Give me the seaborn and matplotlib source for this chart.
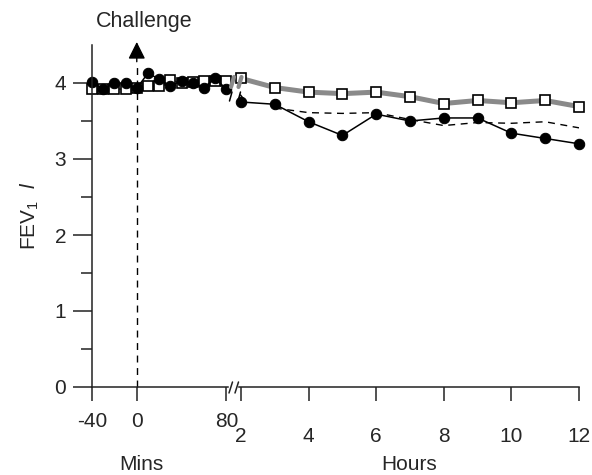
import matplotlib
matplotlib.use("Agg")
import matplotlib.pyplot as plt
from matplotlib.lines import Line2D
import seaborn as sns
import pandas as pd

# ---- data ----
mins = [-40, -30, -20, -10, 0, 10, 20, 30, 40, 50, 60, 70, 80]
circles_mins = [4.01, 3.92, 4.00, 4.00, 3.93, 4.13, 4.05, 3.96, 4.03, 4.00, 3.94, 4.06, 3.92]
squares_mins = [3.92, 3.92, 3.92, 3.92, 3.94, 3.96, 3.96, 4.04, 4.00, 4.01, 4.03, 4.02, 4.03]

hours = [2, 3, 4, 5, 6, 7, 8, 9, 10, 11, 12]
squares_hours = [4.06, 3.94, 3.88, 3.86, 3.88, 3.82, 3.73, 3.77, 3.74, 3.77, 3.69]
circles_hours = [3.75, 3.72, 3.49, 3.31, 3.59, 3.50, 3.54, 3.54, 3.34, 3.27, 3.20]
dashed_hours = [3, 4, 5, 6, 7, 8, 9, 10, 11, 12]
dashed_values = [3.67, 3.61, 3.60, 3.61, 3.52, 3.44, 3.48, 3.47, 3.49, 3.41]

challenge_time = 0
y_ticks = [0, 1, 2, 3, 4]
x_ticks_mins = [-40, 0, 80]
x_ticks_hours = [2, 4, 6, 8, 10, 12]

# ---- style ----
sns.set_style("ticks")
plt.rcParams["font.family"] = ["Liberation Sans", "DejaVu Sans"]
plt.rcParams["mathtext.fontset"] = "custom"
plt.rcParams["mathtext.rm"] = "Liberation Sans"
plt.rcParams["mathtext.it"] = "Liberation Sans:italic"

W, H = 592, 475
fig = plt.figure(figsize=(W / 100, H / 100), dpi=100)


def fr(x, y):
    return x / W, 1 - y / H


axL = fig.add_axes([92 / W, 1 - 387 / H, (228 - 92) / W, (387 - 45) / H])
axR = fig.add_axes([239 / W, 1 - 387 / H, (579 - 239) / W, (387 - 45) / H])

spine_col = "#222222"
for ax in (axL, axR):
    ax.set_ylim(0, 4.5)
    ax.spines["top"].set_visible(False)
    ax.spines["right"].set_visible(False)
    for s in ax.spines.values():
        s.set_color(spine_col)
        s.set_linewidth(1.1)
    ax.set_facecolor("none")

axL.set_xlim(-40, 81.5)
axR.set_xlim(1.94, 12)
axR.spines["left"].set_visible(False)
axR.tick_params(axis="y", left=False, labelleft=False)

# Left panel
dfLc = pd.DataFrame({"t": mins, "v": circles_mins})
dfLs = pd.DataFrame({"t": mins, "v": squares_mins})
sns.lineplot(data=dfLs, x="t", y="v", ax=axL, color="#444444", lw=1.0,
             marker="s", markersize=7, markerfacecolor="white",
             markeredgecolor="black", markeredgewidth=1.2, estimator=None, sort=False,
             clip_on=False)
sns.lineplot(data=dfLc, x="t", y="v", ax=axL, color="black", lw=1.1,
             marker="o", markersize=7.5, markerfacecolor="black",
             markeredgecolor="black", estimator=None, sort=False, clip_on=False)

# Right panel
dfRs = pd.DataFrame({"t": hours, "v": squares_hours})
dfRc = pd.DataFrame({"t": hours, "v": circles_hours})
dfRd = pd.DataFrame({"t": dashed_hours, "v": dashed_values})
sns.lineplot(data=dfRs, x="t", y="v", ax=axR, color="#8a8a8a", lw=3.6,
             marker="s", markersize=7, markerfacecolor="white",
             markeredgecolor="black", markeredgewidth=1.2, estimator=None, sort=False,
             clip_on=False)
sns.lineplot(data=dfRd, x="t", y="v", ax=axR, color="black", lw=1.0,
             linestyle=(0, (5, 4)), estimator=None, sort=False)
sns.lineplot(data=dfRc, x="t", y="v", ax=axR, color="black", lw=1.1,
             marker="o", markersize=7.5, markerfacecolor="black",
             markeredgecolor="black", estimator=None, sort=False, clip_on=False)

# ticks
axL.set_yticks(y_ticks)
axL.set_yticks([0.5, 1.5, 2.5, 3.5], minor=True)
axL.tick_params(axis="y", which="major", length=13.7, width=1.1, labelsize=15,
                pad=5, color=spine_col)
axL.tick_params(axis="y", which="minor", length=8, width=1.1, color=spine_col)
axL.set_xticks(x_ticks_mins)
axL.set_xticklabels([str(v) for v in x_ticks_mins])
axL.tick_params(axis="x", length=10, width=1.1, labelsize=15, pad=8, color=spine_col)
axR.set_xticks(x_ticks_hours)
axR.tick_params(axis="x", length=10, width=1.1, labelsize=15, pad=18.5, color=spine_col)

for ax in (axL, axR):
    ax.set_xlabel("")
    ax.set_ylabel("")

# challenge marker
axL.plot([challenge_time, challenge_time], [0, 4.28], color="black", lw=1.0,
         linestyle=(0, (5, 4)), clip_on=False)
axL.annotate("", xy=(challenge_time, 4.54), xytext=(challenge_time, 4.28),
             arrowprops=dict(arrowstyle="-|>", color="black", lw=1.0,
                             mutation_scale=26, shrinkA=0, shrinkB=0),
             annotation_clip=False)
fig.text(*fr(144, 22), "Challenge", ha="center", va="center", fontsize=15.5)

# axis labels
fig.text(*fr(141, 465), "Mins", ha="center", va="center", fontsize=15)
fig.text(*fr(409, 465), "Hours", ha="center", va="center", fontsize=15)
fig.text(*fr(30, 216), r"FEV$_\mathregular{1}$  $\mathit{l}$", ha="center",
         va="center", rotation=90, fontsize=15)


# break marks
def seg(x0, y0, x1, y1, **kw):
    a = fr(x0, y0)
    b = fr(x1, y1)
    fig.add_artist(Line2D([a[0], b[0]], [a[1], b[1]], transform=fig.transFigure, **kw))


# axis break
seg(229, 393, 232.5, 382, color=spine_col, lw=1.1)
seg(235, 393, 238.5, 382, color=spine_col, lw=1.1)
# gray series break
seg(231, 87, 234, 77, color="#8a8a8a", lw=3.0)
seg(238.5, 87, 241.5, 77, color="#8a8a8a", lw=3.0)
# black series break
seg(229.5, 101, 232, 92, color="black", lw=1.1)
seg(238, 101, 240.5, 92, color="black", lw=1.1)
seg(240.5, 95, 245, 101, color="black", lw=1.1)

fig.savefig("out.png", dpi=100)
